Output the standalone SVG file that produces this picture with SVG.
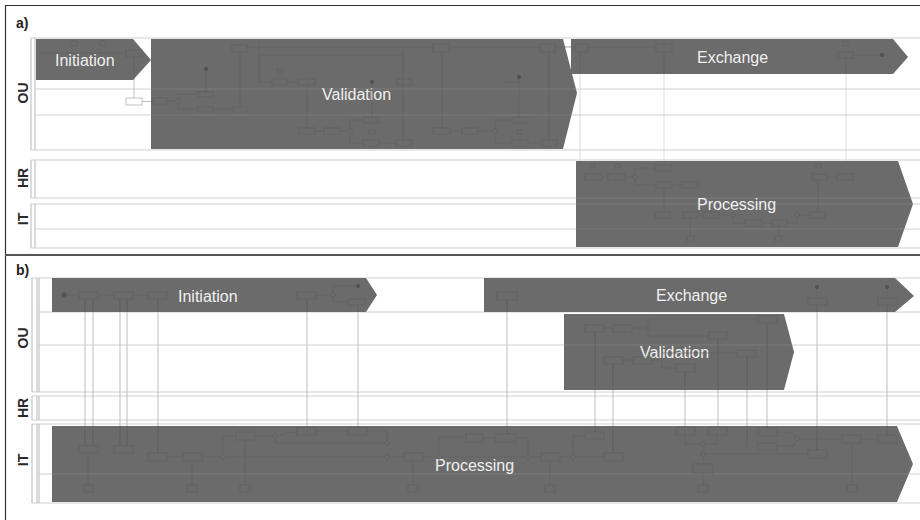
<svg xmlns="http://www.w3.org/2000/svg" xmlns:xlink="http://www.w3.org/1999/xlink" width="920" height="520" viewBox="0 0 920 520">
<style>
.phase{fill:#6b6b6b}
.ptxt{font-family:"Liberation Sans",Arial,sans-serif;font-size:16px;fill:#f0f0f0}
.plbl{font-family:"Liberation Sans",Arial,sans-serif;font-size:14px;font-weight:bold;fill:#2a2a2a}
.panel{font-family:"Liberation Sans",Arial,sans-serif;font-size:14px;font-weight:bold;fill:#222}
.lane{stroke:#d0d0d0;stroke-width:1.2;fill:none}
.hdr{stroke:#c4c4c4;stroke-width:1.2;fill:none}
.over{stroke:#ffffff;stroke-opacity:.12;stroke-width:1;fill:none}
.el rect{fill:none;stroke:#5e5e5e;stroke-width:.6}
.el line,.el polyline{fill:none;stroke:#5e5e5e;stroke-width:.6}
.el use{fill:none;stroke:#5a5a5a;stroke-width:.6}
.el circle{fill:#505050}
.wel rect{fill:#fff;stroke:#a8a8a8;stroke-width:.7}
.msg line{stroke-width:.7;stroke-dasharray:1 1.5}
</style>
<defs>
<path id="gw" d="M0,-3 L3,0 L0,3 L-3,0Z"/>
<clipPath id="darkA">
<polygon points="36,39 133,39 151,60 133,80 36,80"/>
<polygon points="151,39 563,39 577,93 563,149 151,149"/>
<polygon points="571,39 893,39 908,57 893,74 571,74"/>
<polygon points="576,161 898,161 913,204 898,247 576,247"/>
</clipPath>
<clipPath id="darkB">
<polygon points="52,278 366,278 377,295 366,312 52,312"/>
<polygon points="484,278 895,278 914,296 895,312 484,312"/>
<polygon points="564,314 784,314 794,352 784,390 564,390"/>
<polygon points="52,426 897,426 913,464 897,502 52,502"/>
</clipPath>
<g id="msgA">
<line x1="580" y1="52" x2="580" y2="161"/>
<line x1="664" y1="52" x2="664" y2="161"/>
<line x1="846" y1="58" x2="846" y2="161"/>
</g>
<g id="msgB">
<line x1="85" y1="299" x2="85" y2="446"/>
<line x1="93" y1="299" x2="93" y2="446"/>
<line x1="120" y1="299" x2="120" y2="446"/>
<line x1="127" y1="299" x2="127" y2="446"/>
<line x1="158" y1="299" x2="158" y2="453"/>
<line x1="307" y1="299" x2="307" y2="428"/>
<line x1="358" y1="305" x2="358" y2="428"/>
<line x1="507" y1="300" x2="507" y2="434"/>
<line x1="595" y1="332" x2="595" y2="432"/>
<line x1="613" y1="364" x2="613" y2="453"/>
<line x1="685" y1="372" x2="685" y2="427"/>
<line x1="718" y1="339" x2="718" y2="427"/>
<line x1="747" y1="357" x2="747" y2="447"/>
<line x1="767" y1="323" x2="767" y2="428"/>
<line x1="817" y1="305" x2="817" y2="450"/>
<line x1="887" y1="305" x2="887" y2="435"/>
</g>
</defs>

<rect width="920" height="520" fill="#ffffff"/>
<path d="M5.5,530 V5.5 H925" fill="none" stroke="#333" stroke-width="1.2"/>
<line x1="5" y1="255" x2="920" y2="255" stroke="#555" stroke-width="2"/>

<!-- panel a -->
<g id="panel-a">
<text class="panel" x="16" y="28">a)</text>
<g id="a-pool-OU">
<path class="lane" d="M31,38 H920 M35,89 H920 M35,115 H920 M31,150 H920"/>
<path class="hdr" d="M31,38 V150 M35,38 V150"/>
<text class="plbl" transform="translate(28,93) rotate(-90)" text-anchor="middle">OU</text>
</g>
<g id="a-pool-HR">
<path class="lane" d="M31,160 H920 M31,198 H920"/>
<path class="hdr" d="M31,160 V198 M35,160 V198"/>
<text class="plbl" transform="translate(28,178) rotate(-90)" text-anchor="middle">HR</text>
</g>
<g id="a-pool-IT">
<path class="lane" d="M31,204 H920 M35,229 H920 M31,248 H920"/>
<path class="hdr" d="M31,204 V248 M35,204 V248"/>
<text class="plbl" transform="translate(28,219) rotate(-90)" text-anchor="middle">IT</text>
</g>
<use xlink:href="#msgA" stroke="#cfcfcf" stroke-width=".7"/>
<g class="wel"><rect x="126" y="98" width="16" height="7"/></g>
<line x1="142" y1="101.5" x2="152" y2="101.5" stroke="#a8a8a8" stroke-width=".7"/>
<line x1="134" y1="80" x2="134" y2="98" stroke="#a8a8a8" stroke-width=".7"/>

<g id="a-initiation"><polygon class="phase" points="36,39 133,39 151,60 133,80 36,80"/><text class="ptxt" x="55" y="66">Initiation</text></g>
<g id="a-validation"><polygon class="phase" points="151,39 563,39 577,93 563,149 151,149"/><text class="ptxt" x="322" y="100">Validation</text></g>
<g id="a-exchange"><polygon class="phase" points="571,39 893,39 908,57 893,74 571,74"/><text class="ptxt" x="697" y="63">Exchange</text></g>
<g id="a-processing"><polygon class="phase" points="576,161 898,161 913,204 898,247 576,247"/><text class="ptxt" x="697" y="210">Processing</text></g>

<path class="over" d="M36,89 H920 M36,115 H920 M36,198 H920 M36,204 H920 M36,229 H920"/>
<use xlink:href="#msgA" stroke="#5e5e5e" stroke-width=".6" clip-path="url(#darkA)"/>

<g class="el" id="a-details">
<rect x="70" y="41" width="7" height="5"/><rect x="100" y="41" width="6" height="5"/>
<line x1="40" y1="53" x2="126" y2="53"/><rect x="126" y="50" width="16" height="7"/><line x1="134" y1="57" x2="134" y2="80"/>
<rect x="153" y="98" width="14" height="6"/><line x1="167" y1="101" x2="175" y2="101"/><use xlink:href="#gw" x="178" y="101"/>
<polyline points="178,98 178,94 198,94"/><polyline points="178,104 178,109 198,109"/>
<rect x="198" y="92" width="15" height="5"/><rect x="198" y="107" width="15" height="5"/>
<line x1="213" y1="109" x2="233" y2="109"/><rect x="233" y="107" width="14" height="5"/>
<circle cx="206" cy="69" r="2"/><line x1="206" y1="71" x2="206" y2="92"/>
<rect x="232" y="45" width="15" height="7"/><line x1="240" y1="52" x2="240" y2="107"/>
<line x1="247" y1="47" x2="433" y2="47"/><line x1="259" y1="55" x2="403" y2="55"/>
<line x1="259" y1="42" x2="259" y2="82"/><line x1="259" y1="82" x2="272" y2="82"/>
<rect x="272" y="79" width="15" height="6"/><line x1="287" y1="82" x2="298" y2="82"/><rect x="298" y="79" width="17" height="6"/>
<rect x="277" y="69" width="5" height="4"/>
<line x1="307" y1="85" x2="307" y2="128"/><rect x="299" y="128" width="16" height="6"/>
<line x1="315" y1="131" x2="324" y2="131"/><rect x="324" y="128" width="16" height="6"/><line x1="340" y1="131" x2="347" y2="131"/>
<use xlink:href="#gw" x="350" y="131"/><polyline points="350,128 350,120 363,120"/><polyline points="350,134 350,143 363,143"/>
<rect x="363" y="117" width="16" height="6"/><rect x="363" y="140" width="16" height="6"/><rect x="369" y="130" width="6" height="4"/>
<circle cx="372" cy="82" r="2"/><line x1="372" y1="84" x2="372" y2="117"/>
<line x1="379" y1="143" x2="396" y2="143"/><rect x="396" y="140" width="16" height="6"/>
<rect x="397" y="79" width="15" height="6"/><line x1="403" y1="47" x2="403" y2="140"/>
<rect x="433" y="44" width="16" height="8"/><line x1="442" y1="52" x2="442" y2="128"/>
<rect x="433" y="128" width="17" height="6"/><line x1="450" y1="131" x2="462" y2="131"/><rect x="462" y="128" width="16" height="6"/>
<line x1="478" y1="131" x2="492" y2="131"/><use xlink:href="#gw" x="495" y="131"/>
<polyline points="495,128 495,120 512,120"/><polyline points="495,134 495,143 512,143"/>
<rect x="512" y="117" width="16" height="6"/><rect x="512" y="140" width="16" height="6"/><rect x="517" y="130" width="5" height="4"/>
<circle cx="519" cy="77" r="2"/><line x1="519" y1="79" x2="519" y2="117"/><line x1="505" y1="82" x2="519" y2="82"/>
<line x1="528" y1="143" x2="542" y2="143"/><rect x="542" y="140" width="15" height="6"/>
<rect x="540" y="44" width="15" height="8"/><line x1="549" y1="52" x2="549" y2="140"/>
<line x1="449" y1="47" x2="540" y2="47"/><line x1="555" y1="47" x2="575" y2="47"/>
<rect x="575" y="44" width="13" height="8"/><line x1="588" y1="47" x2="656" y2="47"/><rect x="656" y="44" width="16" height="8"/>
<rect x="843" y="41" width="5" height="5"/><rect x="838" y="52" width="15" height="6"/><line x1="853" y1="55" x2="880" y2="55"/><circle cx="882" cy="55" r="2"/>
<rect x="590" y="164" width="5" height="4"/><rect x="615" y="164" width="5" height="4"/>
<rect x="585" y="174" width="17" height="6"/><line x1="602" y1="177" x2="608" y2="177"/><rect x="608" y="174" width="17" height="6"/>
<line x1="625" y1="177" x2="632" y2="177"/><use xlink:href="#gw" x="635" y="177"/>
<polyline points="635,174 635,168 655,168"/><polyline points="635,180 635,185 656,185"/>
<rect x="655" y="165" width="17" height="6"/><rect x="656" y="182" width="16" height="6"/>
<line x1="672" y1="185" x2="682" y2="185"/><rect x="682" y="182" width="16" height="6"/>
<line x1="664" y1="188" x2="664" y2="212"/><rect x="655" y="212" width="15" height="6"/>
<rect x="683" y="212" width="15" height="6"/><line x1="698" y1="215" x2="703" y2="215"/><rect x="703" y="212" width="16" height="6"/>
<line x1="719" y1="215" x2="730" y2="215"/><use xlink:href="#gw" x="733" y="215"/>
<polyline points="733,218 733,223 745,223"/><rect x="745" y="220" width="17" height="6"/>
<line x1="762" y1="223" x2="772" y2="223"/><rect x="772" y="220" width="15" height="6"/>
<polyline points="787,223 797,223 797,218"/><use xlink:href="#gw" x="797" y="215"/>
<line x1="800" y1="215" x2="810" y2="215"/><rect x="810" y="212" width="15" height="6"/>
<line x1="690" y1="218" x2="690" y2="236"/><rect x="687" y="236" width="7" height="5"/>
<line x1="779" y1="226" x2="779" y2="236"/><rect x="775" y="236" width="7" height="5"/>
<rect x="816" y="164" width="5" height="4"/><rect x="812" y="174" width="15" height="6"/>
<line x1="827" y1="177" x2="837" y2="177"/><rect x="837" y="174" width="16" height="6"/>
<line x1="818" y1="180" x2="818" y2="212"/>
</g>
</g>

<!-- panel b -->
<g id="panel-b">
<text class="panel" x="16" y="275">b)</text>
<g id="b-pool-OU">
<path class="lane" d="M32,278 H920 M39,312 H920 M39,345 H920 M32,392 H920"/>
<path class="hdr" d="M32,278 V392 M37,278 V392 M39,278 V392"/>
<text class="plbl" transform="translate(28,338) rotate(-90)" text-anchor="middle">OU</text>
</g>
<g id="b-pool-HR">
<path class="lane" d="M32,396 H920 M32,420 H920"/>
<path class="hdr" d="M32,396 V420 M37,396 V420 M39,396 V420"/>
<text class="plbl" transform="translate(28,408) rotate(-90)" text-anchor="middle">HR</text>
</g>
<g id="b-pool-IT">
<path class="lane" d="M32,424 H920 M39,474 H920 M32,503 H920"/>
<path class="hdr" d="M32,424 V503 M37,424 V503 M39,424 V503"/>
<text class="plbl" transform="translate(28,460) rotate(-90)" text-anchor="middle">IT</text>
</g>
<g class="msg" id="b-connectors"><use xlink:href="#msgB" stroke="#bdbdbd"/></g>

<g id="b-initiation"><polygon class="phase" points="52,278 366,278 377,295 366,312 52,312"/><text class="ptxt" x="178" y="302">Initiation</text></g>
<g id="b-exchange"><polygon class="phase" points="484,278 895,278 914,296 895,312 484,312"/><text class="ptxt" x="656" y="301">Exchange</text></g>
<g id="b-validation"><polygon class="phase" points="564,314 784,314 794,352 784,390 564,390"/><text class="ptxt" x="640" y="358">Validation</text></g>
<g id="b-processing"><polygon class="phase" points="52,426 897,426 913,464 897,502 52,502"/><text class="ptxt" x="435" y="471">Processing</text></g>

<path class="over" d="M52,345 H920 M52,474 H920"/>
<g class="msg"><use xlink:href="#msgB" stroke="#5e5e5e" clip-path="url(#darkB)"/></g>

<g class="el" id="b-details">
<circle cx="64" cy="295" r="2.5" fill="none" stroke="#5e5e5e" stroke-width=".6"/>
<line x1="67" y1="295" x2="79" y2="295"/><rect x="79" y="292" width="19" height="7"/>
<line x1="98" y1="295" x2="114" y2="295"/><rect x="114" y="292" width="19" height="7"/>
<line x1="133" y1="295" x2="148" y2="295"/><rect x="148" y="292" width="19" height="7"/>
<rect x="297" y="292" width="19" height="7"/><line x1="316" y1="295" x2="330" y2="295"/><use xlink:href="#gw" x="333" y="295"/>
<polyline points="333,292 333,286 356,286"/><circle cx="358" cy="286" r="2"/>
<polyline points="333,298 333,302 348,302"/><rect x="348" y="299" width="17" height="6"/>
<rect x="497" y="292" width="20" height="8"/>
<circle cx="817" cy="287" r="2"/><line x1="817" y1="289" x2="817" y2="298"/><rect x="808" y="298" width="19" height="7"/>
<circle cx="887" cy="287" r="2"/><line x1="887" y1="289" x2="887" y2="298"/><rect x="878" y="298" width="19" height="7"/>
<rect x="585" y="325" width="19" height="7"/><line x1="604" y1="328" x2="613" y2="328"/><rect x="613" y="325" width="19" height="7"/>
<line x1="632" y1="328" x2="645" y2="328"/><use xlink:href="#gw" x="648" y="328"/>
<polyline points="648,325 648,319 758,319"/><polyline points="648,331 648,336 709,336"/>
<rect x="758" y="316" width="19" height="7"/><rect x="709" y="332" width="18" height="7"/>
<rect x="604" y="357" width="19" height="7"/><line x1="623" y1="360" x2="633" y2="360"/><rect x="633" y="357" width="19" height="7"/>
<polyline points="652,360 662,360 662,368 676,368"/><rect x="676" y="364" width="19" height="8"/>
<line x1="662" y1="353" x2="737" y2="353"/><rect x="737" y="350" width="19" height="7"/>
<rect x="79" y="446" width="19" height="7"/><rect x="114" y="446" width="19" height="7"/>
<line x1="88" y1="453" x2="88" y2="485"/><rect x="84" y="485" width="9" height="7"/>
<rect x="148" y="453" width="19" height="8"/><line x1="167" y1="457" x2="183" y2="457"/><rect x="183" y="453" width="19" height="8"/>
<line x1="192" y1="461" x2="192" y2="485"/><rect x="187" y="485" width="10" height="7"/>
<line x1="202" y1="457" x2="220" y2="457"/><use xlink:href="#gw" x="223" y="457"/>
<polyline points="223,454 223,436 236,436"/><rect x="236" y="432" width="19" height="8"/>
<line x1="245" y1="440" x2="245" y2="485"/><rect x="240" y="485" width="10" height="7"/>
<line x1="255" y1="436" x2="272" y2="436"/><use xlink:href="#gw" x="275" y="436"/>
<polyline points="278,436 290,432 297,432"/><rect x="297" y="428" width="19" height="7"/>
<line x1="316" y1="431" x2="348" y2="431"/><rect x="348" y="428" width="19" height="7"/>
<polyline points="275,439 275,443 384,443"/><polyline points="367,431 387,431 387,440"/><use xlink:href="#gw" x="387" y="443"/>
<line x1="226" y1="457" x2="384" y2="457"/><use xlink:href="#gw" x="387" y="457"/>
<line x1="390" y1="457" x2="404" y2="457"/><rect x="404" y="453" width="19" height="8"/>
<line x1="413" y1="461" x2="413" y2="485"/><rect x="408" y="485" width="10" height="7"/>
<line x1="423" y1="457" x2="436" y2="457"/><use xlink:href="#gw" x="439" y="457"/>
<polyline points="439,454 439,437 466,437"/><rect x="466" y="434" width="17" height="8"/>
<line x1="483" y1="438" x2="495" y2="438"/><rect x="495" y="434" width="21" height="8"/>
<polyline points="516,438 528,438 528,454"/><line x1="442" y1="457" x2="525" y2="457"/><use xlink:href="#gw" x="528" y="457"/>
<line x1="531" y1="457" x2="541" y2="457"/><rect x="541" y="453" width="19" height="8"/>
<line x1="550" y1="461" x2="550" y2="485"/><rect x="545" y="485" width="10" height="7"/>
<line x1="560" y1="457" x2="570" y2="457"/><use xlink:href="#gw" x="573" y="457"/>
<polyline points="573,454 573,436 585,436"/><rect x="585" y="432" width="19" height="7"/>
<line x1="576" y1="457" x2="604" y2="457"/><rect x="604" y="453" width="19" height="8"/>
<rect x="676" y="427" width="19" height="8"/><rect x="708" y="427" width="19" height="8"/>
<polyline points="685,435 685,444 700,444"/><polyline points="717,435 717,444 706,444"/>
<use xlink:href="#gw" x="703" y="444"/><use xlink:href="#gw" x="703" y="454"/>
<line x1="703" y1="457" x2="703" y2="464"/><rect x="693" y="464" width="20" height="9"/>
<line x1="703" y1="473" x2="703" y2="485"/><rect x="698" y="485" width="10" height="7"/>
<line x1="706" y1="454" x2="808" y2="454"/><rect x="808" y="450" width="19" height="8"/>
<rect x="758" y="428" width="19" height="8"/><rect x="758" y="443" width="19" height="7"/>
<polyline points="777,432 794,432 794,438"/><polyline points="777,446 794,446 794,441"/><use xlink:href="#gw" x="797" y="438"/>
<line x1="800" y1="439" x2="842" y2="439"/><rect x="842" y="435" width="19" height="8"/>
<line x1="861" y1="439" x2="878" y2="439"/><rect x="878" y="435" width="19" height="8"/>
<line x1="852" y1="443" x2="852" y2="485"/><rect x="847" y="485" width="10" height="7"/>
</g>
</g>
</svg>
